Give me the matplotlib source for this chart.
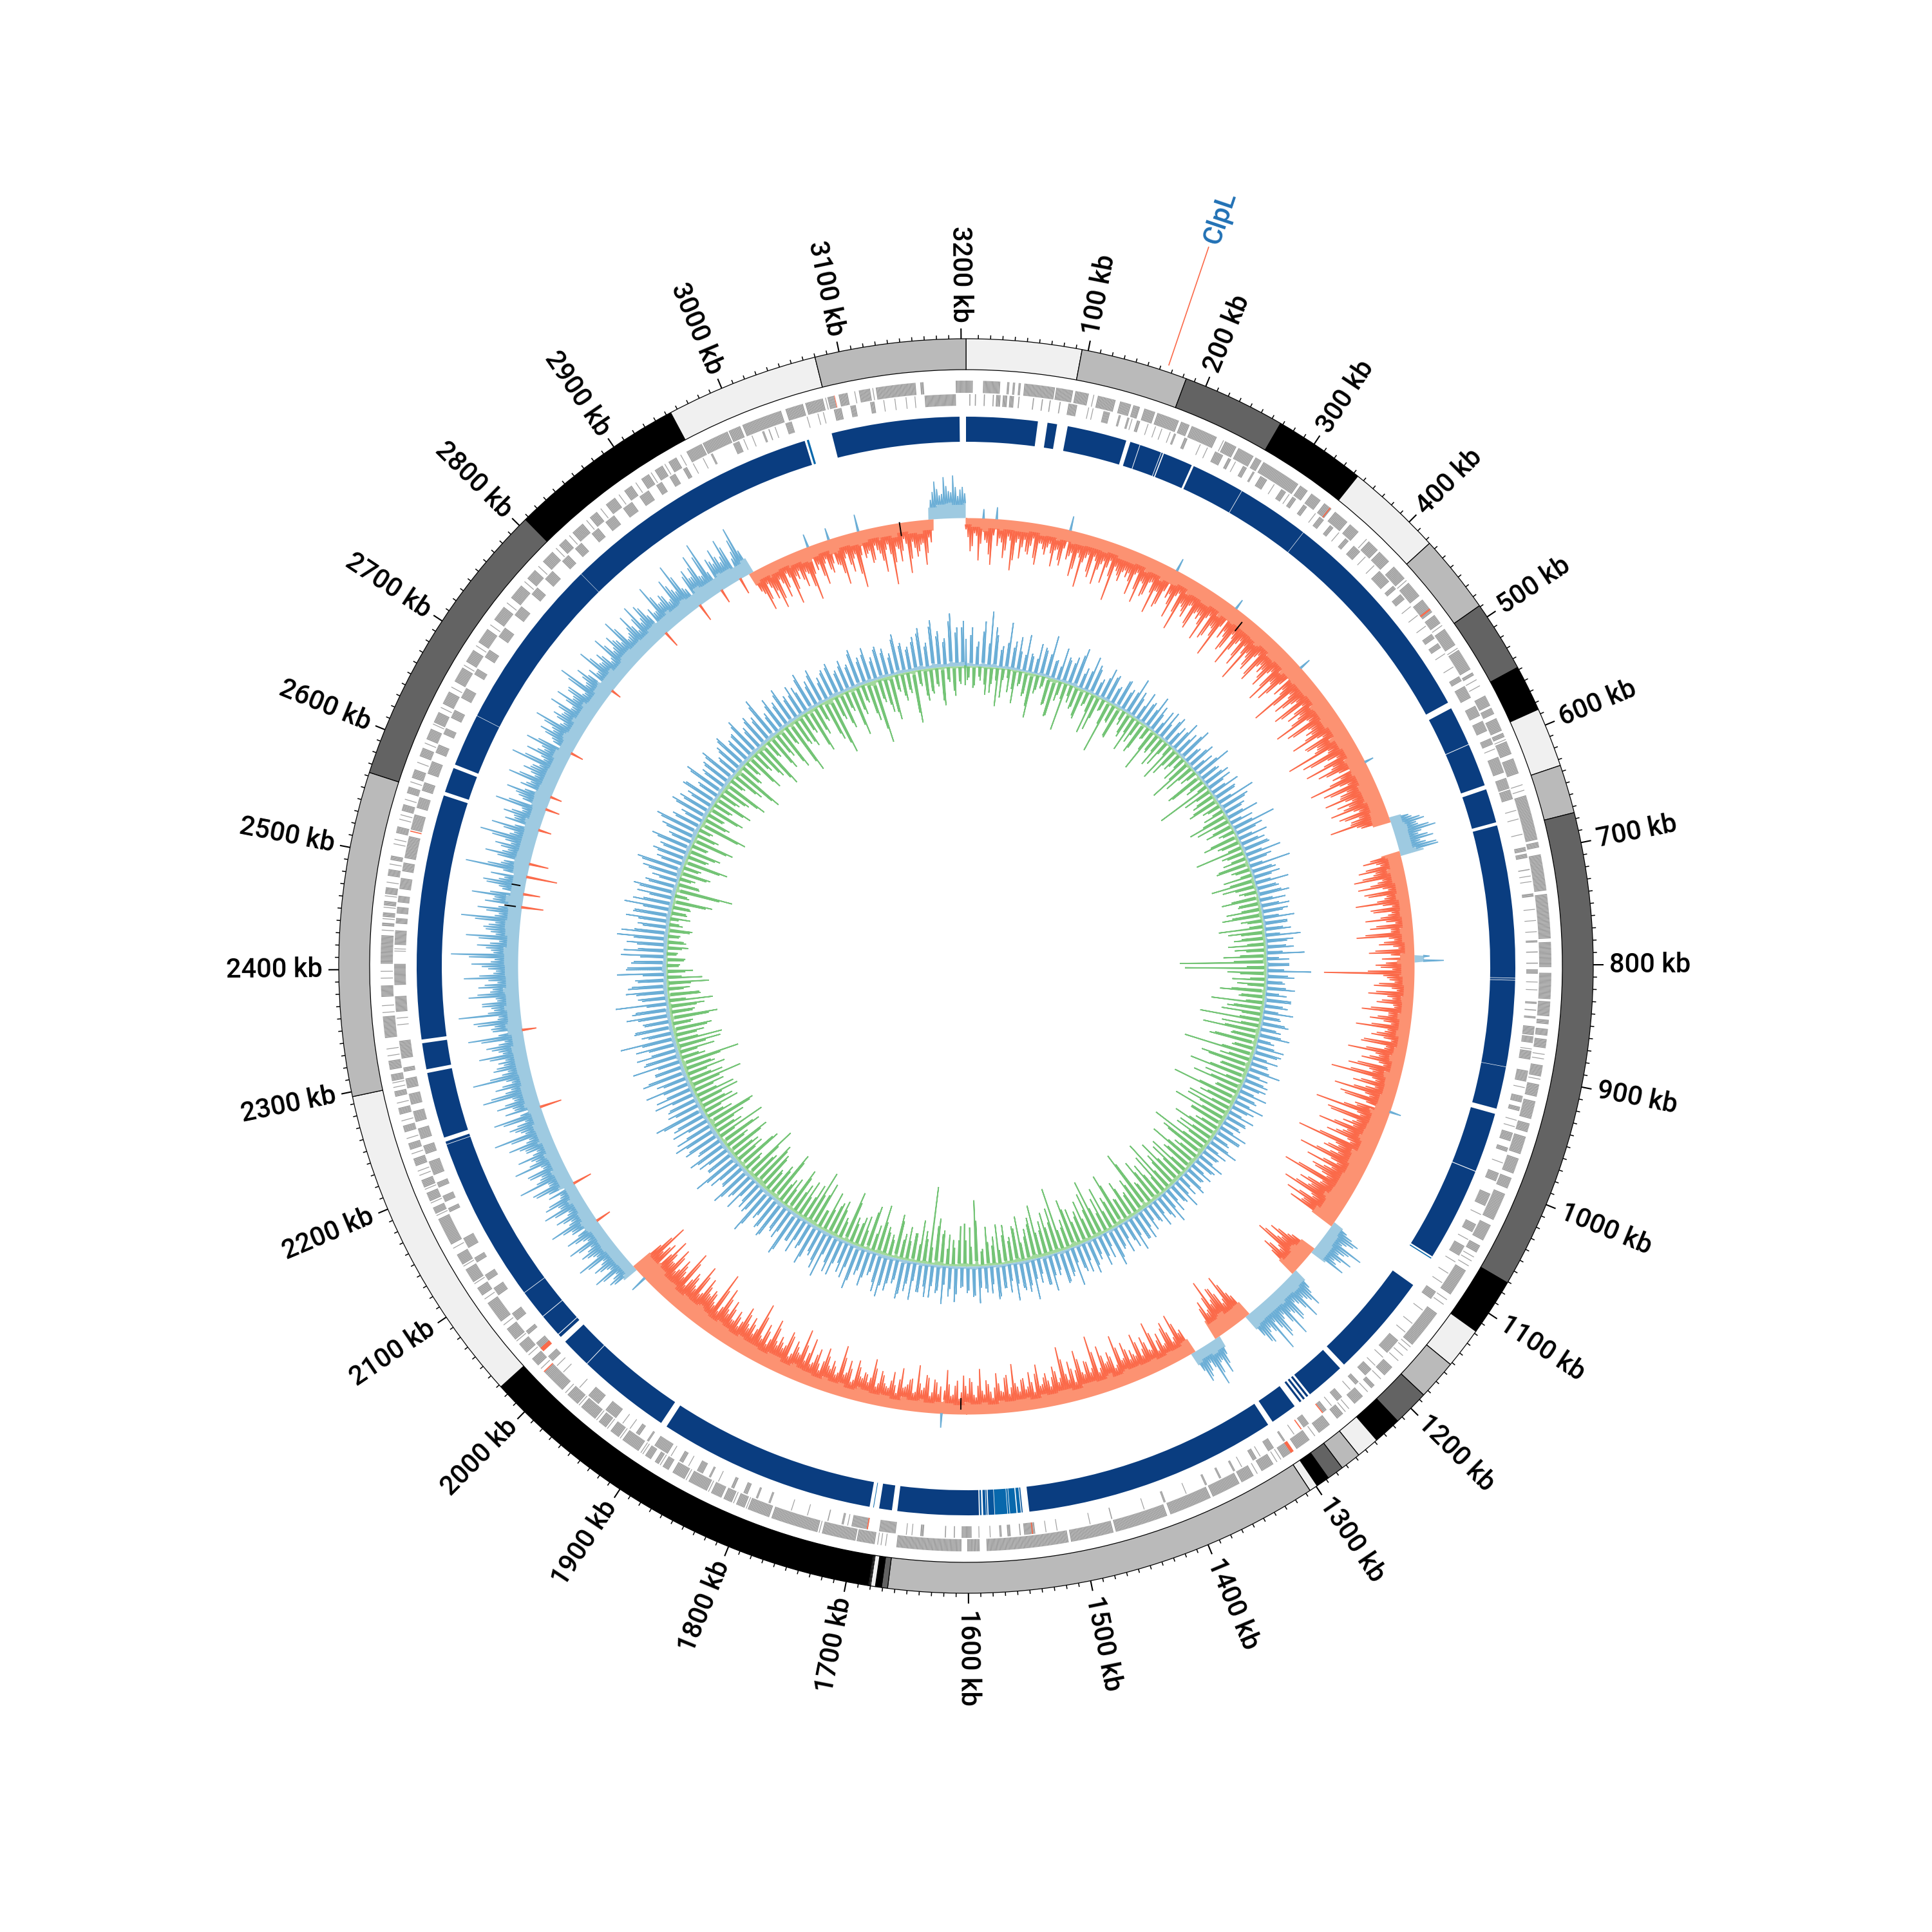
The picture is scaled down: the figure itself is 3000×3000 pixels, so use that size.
import numpy as np
import matplotlib
matplotlib.use("Agg")
import matplotlib.pyplot as plt

GENOME_KB = 3204
BIN_KB = 5

# contig bands: boundaries in kb, colours cycle over them
band_edges = [0, 95, 183, 268, 344, 424, 489, 548, 586, 635, 675, 1071, 1118, 1152, 1185, 1215, 1238, 1257, 1274,
              1288, 1299, 1306, 1666, 1671, 1676, 1680, 1681, 1682, 2028, 2296, 2563, 2807, 2954, 3080, 3204]
band_colors = ["#f0f0f0", "#bababa", "#636363", "#000000"]

# alignment track segments (kb)
align_dark = [(0, 67), (76, 85), (95, 151), (155, 164), (164.6, 185), (185.6, 187), (188, 216), (218, 268), (268.5, 337),
              (337.4, 546), (552, 589), (589.6, 630), (634, 666), (669, 812), (812.5, 814), (814.5, 895), (895.4, 935),
              (940, 996), (996.7, 1085), (1117, 1215), (1220, 1257), (1259, 1261), (1263, 1265), (1267, 1269),
              (1275, 1300), (1305, 1543), (1590, 1666), (1671, 1683), (1692, 1896), (1902, 1990), (1990.6, 2019),
              (2025, 2028), (2028.7, 2050), (2050.6, 2078), (2078.5, 2234), (2234.5, 2237), (2241, 2303), (2306.5, 2331),
              (2334.5, 2564), (2567.5, 2591), (2594.5, 2644), (2644.4, 2808), (2808.3, 3052), (3078, 3198)]
align_mid = [(1551, 1554), (1555, 1561), (1561.5, 1563), (1563.5, 1575), (3054, 3056), (1688, 1688.6), (1086.5, 1087.5)]
align_mid2 = [(1549.2, 1550.2), (1575.5, 1581), (1582, 1583), (1583.5, 1586), (1587.5, 1589)]

# gene blocks on each strand (kb)
genes_outer = [(3164, 3167), (3195, 3204), (0, 6), (15, 30), (36, 38), (41, 43), (46, 48), (51, 78), (79, 94), (96, 108), (116, 132),
               (136, 146), (148, 154), (158, 168), (170, 190), (192, 200), (202, 226), (234, 245), (247, 262), (264, 270),
               (272, 308), (310, 318), (322, 332), (336, 344), (348, 362), (365, 375), (387, 398), (400, 412), (418, 432),
               (437, 452), (456, 470), (473, 482), (488, 505), (510, 530), (533, 536), (556, 566), (568, 574), (578, 590), (592, 596),
               (600, 612), (616, 630), (650, 676), (676, 690), (692, 697), (703, 730), (730, 735), (738, 777), (780, 802),
               (807, 830), (832, 845), (848, 852), (856, 862), (865, 873), (888, 898), (905, 916), (920, 936), (940, 948),
               (952, 968), (972, 986), (990, 1000), (1005, 1030), (1035, 1050), (1055, 1062), (1080, 1105), (1125, 1160),
               (1186, 1196), (1208, 1212), (1222, 1232), (1245, 1252), (1260, 1272), (1282, 1296), (1301, 1310), (1320, 1332),
               (1340, 1352), (1354, 1380), (1382, 1420), (1423, 1470), (1472, 1510), (1512, 1541), (1541, 1584), (1590, 1601),
               (1606, 1663), (1682, 1698), (1699, 1729), (1733, 1775), (1777, 1797), (1800, 1808), (1812, 1820), (1822, 1832),
               (1836, 1854), (1858, 1870), (1874, 1880), (1884, 1888), (1892, 1898), (1905, 1922), (1926, 1935), (1940, 1948),
               (1952, 1968), (1972, 1984), (1990, 2012), (2020, 2028), (2035, 2045), (2050, 2062), (2070, 2090), (2098, 2106),
               (2112, 2125), (2130, 2140), (2150, 2175), (2180, 2186), (2192, 2200), (2205, 2212), (2225, 2232), (2240, 2246),
               (2256, 2262), (2272, 2278), (2288, 2293), (2302, 2308), (2312, 2320), (2340, 2359), (2376, 2386), (2405, 2430),
               (2438, 2441), (2446, 2450), (2456, 2460), (2466, 2472), (2482, 2488), (2496, 2500), (2520, 2526), (2540, 2546),
               (2556, 2562), (2570, 2578), (2590, 2598), (2606, 2616), (2622, 2632), (2640, 2652), (2662, 2676), (2682, 2694),
               (2702, 2716), (2726, 2740), (2750, 2764), (2772, 2782), (2792, 2804), (2812, 2820), (2828, 2840), (2848, 2856),
               (2866, 2876), (2886, 2894), (2904, 2912), (2918, 2926), (2932, 2940), (2950, 2965), (2966, 2990), (2991, 3002),
               (3004, 3040), (3044, 3060), (3062, 3078), (3082, 3088), (3092, 3100), (3110, 3120), (3125, 3160)]
genes_inner = [(3167, 3195), (3, 4), (8, 9), (16, 17), (24, 25), (27, 31), (33, 37), (39, 43), (47, 48), (60, 61), (68, 69), (75, 76),
               (84, 85), (92, 100), (124, 130), (138, 140), (146, 148), (155, 158), (190, 192), (200, 203), (230, 238), (243, 246),
               (258, 262), (268, 270), (276, 283), (298, 303), (310, 314), (322, 326), (340, 345), (352, 356), (370, 374),
               (380, 388), (412, 425), (430, 434), (440, 446), (485, 490), (495, 500), (530, 535), (540, 552), (560, 570),
               (575, 585), (592, 598), (610, 625), (630, 640), (641, 650), (694, 698), (700, 704), (714, 715), (736, 739),
               (778, 780), (788, 789), (798, 799), (804, 808), (833, 835), (840, 841), (846, 848), (855, 863), (864, 870),
               (877, 885), (895, 905), (918, 924), (928, 932), (952, 960), (966, 970), (990, 998), (1010, 1022), (1040, 1048),
               (1062, 1072), (1110, 1118), (1165, 1180), (1200, 1208), (1216, 1220), (1236, 1242), (1254, 1258), (1274, 1280),
               (1300, 1302), (1312, 1318), (1330, 1334), (1352, 1354), (1366, 1368), (1380, 1382), (1420, 1422), (1470, 1471),
               (1540, 1550), (1553, 1554), (1562, 1565), (1570, 1572), (1597, 1606), (1612, 1613), (1620, 1621), (1640, 1643),
               (1665, 1680), (1690, 1705), (1712, 1714), (1726, 1727), (1780, 1782), (1792, 1794), (1802, 1806), (1815, 1818),
               (1838, 1840), (1846, 1852), (1866, 1870), (1882, 1896), (1902, 1904), (1912, 1916), (1938, 1950), (1958, 1970),
               (2014, 2020), (2028, 2036), (2046, 2050), (2062, 2070), (2090, 2098), (2106, 2112), (2125, 2130), (2140, 2150),
               (2176, 2180), (2186, 2192), (2200, 2205), (2212, 2225), (2232, 2240), (2246, 2256), (2262, 2272), (2278, 2288),
               (2293, 2302), (2308, 2312), (2320, 2336), (2362, 2376), (2386, 2405), (2422, 2435), (2441, 2446), (2450, 2456),
               (2460, 2466), (2472, 2482), (2488, 2496), (2500, 2520), (2526, 2540), (2546, 2556), (2562, 2570), (2578, 2590),
               (2598, 2606), (2616, 2622), (2632, 2640), (2652, 2662), (2676, 2682), (2694, 2702), (2716, 2726), (2740, 2750),
               (2764, 2772), (2782, 2792), (2804, 2812), (2820, 2828), (2840, 2848), (2856, 2866), (2876, 2886), (2894, 2904),
               (2912, 2918), (2926, 2932), (2940, 2944), (2968, 2970), (2990, 2996), (3018, 3020), (3024, 3025), (3040, 3046),
               (3085, 3092), (3100, 3105), (3118, 3122)]
# single short genes, by start position (kb)
thin_genes_outer = [112, 152, 232, 384, 434, 484, 508, 540, 546, 598, 640, 645, 878, 882, 900, 1066, 1070, 1075, 1110, 1115,
                    1162, 1166, 1172, 1178, 1200, 1216, 1238, 1242, 1276, 1312, 1316, 1336, 1672, 1676, 1679, 1731, 1798, 1810,
                    1834, 1856, 1882, 1900, 1902, 1924, 1938, 1950, 1970, 1986, 2016, 2032, 2048, 2066, 2094, 2110, 2128, 2146,
                    2178, 2190, 2203, 2216, 2220, 2236, 2250, 2266, 2282, 2296, 2300, 2324, 2330, 2362, 2368, 2392, 2398, 2434,
                    2444, 2454, 2464, 2476, 2492, 2510, 2514, 2532, 2536, 2550, 2566, 2584, 2602, 2620, 2636, 2656, 2678, 2698,
                    2720, 2744, 2768, 2786, 2808, 2824, 2844, 2860, 2880, 2898, 2914, 2928, 2944, 3080, 3106, 3122]
thin_genes_inner = [110, 114, 150, 165, 172, 178, 186, 215, 222, 250, 290, 306, 335, 362, 394, 405, 454, 464, 476, 506, 520,
                    602, 660, 668, 682, 720, 725, 750, 760, 770, 815, 822, 875, 910, 940, 946, 980, 1030, 1055, 1078, 1090,
                    1100, 1130, 1145, 1155, 1185, 1195, 1226, 1248, 1290, 1326, 1345, 1400, 1440, 1490, 1520, 1530, 1580, 1590,
                    1650, 1655, 1708, 1745, 1760, 1830, 1860, 1878, 1922, 1930, 1980, 2000, 2008, 2350, 2356, 2416, 2418, 2950,
                    2960, 3000, 3008, 3030, 3060, 3070, 3075, 3130, 3140, 3150, 3158]
genes_red_outer = [(342, 343), (466, 467.5), (1299, 1302), (2012, 2013), (3088, 3088.6)]
genes_red_inner = [(1258, 1259), (1282, 1283), (1542, 1543), (1690, 1691), (2026, 2030), (2524, 2525)]

# outer skew track, read per 5 kb bin (radial pixels from its baseline)
outer_values = [
 -18,-52,-24,-66,14,-38,-72,18,-30,-60,-26,-78,-34,-58,-28,-50,-24,-64,-30,-46,
 -28,-62,-34,-58,22,-40,-70,-32,-84,-36,-56,-30,-72,-38,-66,-28,-90,-40,-54,-34,
 -36,-68,-30,-76,-42,-58,-34,-82,-44,-62,20,-38,-74,-30,-88,-46,-60,-36,-72,-40,
 -42,-80,-34,-66,-48,-92,16,-40,-70,-36,-86,-44,-62,-38,-96,-50,-68,-34,-78,-42,
 -46,-72,-38,-90,-52,-66,18,-44,-104,-40,-74,-48,-84,-36,-68,-54,-98,-42,-76,-46,
 -50,-88,-38,-70,-56,-110,-44,-78,-36,-92,-52,-64,14,-46,-100,-40,-72,-58,-86,-44,
 -52,-84,-40,-66,-58,-94,-46,34,52,40,66,36,58,44,62,-60,-34,-70,-48,-80,
 -44,-76,-30,-62,-38,-84,-28,-58,-36,-72,-26,-66,-34,-88,-30,-54,-24,-70,24,46,
 -60,-34,-140,-42,-30,-62,-26,-70,-32,-56,-28,-78,-36,-64,-30,-84,-38,-58,-26,-72,
 -34,-90,-40,-66,-30,-84,-44,-108,-36,-70,-48,-96,-38,-76,18,-52,-116,-42,-88,-50,
 -46,-100,-58,-82,-40,-124,-54,-76,-62,-110,-44,-92,-60,-72,-48,-118,-52,-84,-66,-104,
 -50,-92,-62,28,54,38,70,44,62,36,58,-46,-74,-56,-88,-40,-66,34,62,44,
 72,40,58,46,80,36,64,50,84,38,60,42,-48,-82,-38,-70,-54,-90,-44,-62,
 30,58,36,70,28,48,34,-38,-72,-30,-66,-34,-54,-28,-78,-36,-60,-32,-70,-40,
 -34,-64,-38,-80,-30,-58,-42,-72,-32,-92,-36,-56,-40,-76,-28,-62,-44,-88,-34,-60,
 -30,-52,-36,-68,-26,-58,-32,-48,-38,-74,-28,-54,-34,-62,-24,-46,-30,-70,-26,-50,
 -32,-60,-24,-44,-28,-68,22,-30,-52,-26,-58,-34,-72,-28,-48,-36,-64,-24,-56,-30,
 -36,-54,-28,-70,-32,-46,-38,-62,-26,-58,-34,-78,-30,-50,-40,-66,-28,-60,-36,-72,
 -34,-82,-42,-58,-30,-68,-38,-54,-44,-76,-32,-62,-40,-90,-36,-60,-46,-70,-34,-56,
 -38,-66,-48,-80,-36,-98,-44,-60,-50,-72,-40,-86,-46,-64,-36,-92,-52,-68,-42,-78,
 -50,-84,26,-62,-96,-54,46,28,62,34,52,30,70,38,54,32,66,36,60,-24,
 42,74,34,56,30,68,40,52,28,-30,62,36,82,44,58,32,76,38,64,30,
 46,70,34,88,42,58,30,78,-34,40,66,36,84,46,60,32,92,44,56,38,
 34,74,42,60,30,86,-22,48,68,36,96,40,58,34,78,44,62,32,84,38,
 46,72,36,104,42,64,30,82,44,56,38,92,34,68,-34,46,80,-26,40,66,
 34,-48,98,44,-30,72,38,60,46,88,36,74,-20,42,62,34,80,-22,48,70,
 -18,44,76,36,58,46,84,34,66,40,74,-20,38,62,46,78,34,56,42,70,
 36,68,44,58,32,82,40,62,-16,36,74,42,54,30,70,38,60,46,76,34,
 40,66,32,72,44,58,-26,36,78,42,52,34,68,46,84,38,-28,60,44,76,
 36,88,-22,48,64,38,72,-26,44,80,-34,-68,-28,-56,-74,-30,-62,-26,-78,-36,
 -30,-58,-40,-84,20,-32,-66,-28,-52,18,-44,-76,-30,-60,-34,-88,26,-38,-54,-28,
 -42,-72,-30,-94,-36,-60,-26,-80,-32,-56,-38,-70,-28,30,58,36,64,42,66,34,
 48]

# outer track, the readings half a bin later
outer_values_mid = [
 -30,-44,-28,-40,-34,-56,-26,-42,-36,-48,-32,-62,-28,-40,-46,-36,-54,-30,-38,-34,
 -42,-36,-50,-30,-46,-34,-58,-38,-44,-30,-64,-36,-48,-32,-40,-52,-34,-46,-38,-44,
 -48,-34,-56,-40,-62,-36,-50,-44,-68,-38,-46,-54,-36,-60,-42,-52,-38,-66,-44,-50,
 -56,-40,-72,-46,-60,-38,-54,-48,-64,-42,-58,-36,-76,-50,-44,-62,-40,-70,-48,-54,
 -60,-44,-66,-50,-80,-42,-58,-52,-70,-46,-62,-40,-74,-54,-48,-68,-44,-84,-50,-58,
 -64,-46,-72,-54,-62,-42,-90,-50,-60,-48,-76,-44,-58,-66,-52,-82,-46,-60,-54,-70,
 -62,-48,-74,-44,-60,-52,30,46,38,56,42,50,36,60,-48,-40,-58,-44,-66,-36,
 -56,-38,-68,-34,-50,-42,-62,-30,-48,-40,-56,-34,-74,-38,-46,-32,-60,-36,-50,-44,
 -52,-72,-48,-38,-54,-34,-58,-40,-48,-30,-64,-36,-52,-42,-60,-34,-50,-38,-68,-32,
 -62,-46,-54,-38,-70,-50,-78,-42,-58,-34,-66,-46,-84,-40,-56,-72,-48,-94,-44,-64,
 -76,-52,-68,-46,-90,-60,-70,-50,-84,-56,-66,-48,-78,-58,-96,-50,-72,-62,-86,-54,
 -72,-60,-80,40,48,32,50,36,46,42,-40,-62,-50,-78,-46,-58,-48,42,50,38,
 52,34,62,40,54,42,70,36,48,44,56,-40,-66,-44,-58,-72,-48,-64,-40,-52,
 44,34,52,38,40,54,-42,-56,-36,-48,-58,-32,-44,-60,-34,-50,-42,-56,-36,-48,
 -52,-40,-60,-34,-50,-44,-56,-38,-66,-42,-54,-36,-62,-46,-50,-34,-68,-40,-52,-44,
 -40,-46,-34,-54,-42,-36,-50,-30,-44,-38,-58,-32,-46,-40,-34,-52,-36,-44,-30,-56,
 -44,-34,-52,-30,-46,-36,-42,-48,-32,-54,-38,-44,-30,-50,-40,-34,-46,-36,-42,-32,
 -48,-34,-56,-40,-44,-36,-52,-30,-46,-38,-60,-34,-42,-36,-54,-44,-38,-50,-32,-48,
 -58,-40,-50,-36,-62,-44,-46,-38,-64,-42,-52,-36,-70,-46,-50,-40,-60,-44,-48,-38,
 -54,-42,-64,-46,-72,-40,-56,-48,-60,-44,-70,-42,-58,-50,-76,-44,-60,-48,-66,-50,
 -62,-56,-70,-50,-74,40,36,50,30,44,36,56,34,46,40,52,30,48,38,44,
 56,40,46,34,52,38,60,30,46,42,66,36,52,40,60,34,50,44,38,46,
 54,40,62,36,50,44,64,34,56,42,52,38,70,36,48,40,64,34,50,46,
 58,36,52,40,66,38,46,42,74,34,50,44,58,36,64,40,52,46,60,34,
 56,42,76,38,50,44,62,36,52,48,70,40,54,36,58,44,52,34,60,42,
 56,38,64,40,52,46,50,36,68,42,54,38,56,44,50,36,60,40,54,42,
 52,38,60,44,48,36,64,40,50,46,56,34,52,42,62,38,48,44,54,36,
 50,42,56,34,66,38,50,44,48,36,58,40,46,34,54,42,50,38,60,36,
 48,44,52,38,64,40,46,36,58,42,48,36,56,40,62,34,52,44,58,38,
 68,36,54,42,50,46,58,34,62,40,-40,-52,-36,-44,-60,-38,-48,-34,-56,-42,
 -46,-36,-62,-44,-40,-52,-34,-46,-38,-42,-58,-36,-48,-40,-66,-38,-44,-34,-50,-36,
 -54,-38,-46,-60,-40,-44,-34,-58,-42,-48,-36,-52,-36,42,46,38,50,40,48,44,
 38]

# inner track, read per 5 kb bin (radial pixels from its baseline)
inner_values = [
 42,-18,60,-30,38,-22,70,-44,86,-26,50,-60,34,-18,72,-36,44,-52,30,-20,
 58,-34,26,-70,48,-24,40,-16,66,-42,30,-58,52,-22,36,-76,44,-28,62,-32,
 34,-48,56,-20,40,-64,28,-36,50,-18,44,-84,30,-30,46,-52,36,-24,60,-40,
 32,-58,48,-26,38,-44,54,-20,30,-70,42,-34,26,-50,46,-22,36,-62,52,-30,
 40,-24,56,-42,30,-72,46,-28,36,-18,60,-54,34,-32,44,-88,28,-26,48,-38,
 36,-50,62,-22,42,-34,30,-64,52,-26,38,-44,70,-20,34,-56,48,-30,40,-76,
 44,-28,58,-38,32,-52,66,-24,40,-46,30,-68,54,-32,36,-20,50,-58,42,-34,
 46,-54,34,-62,50,-24,38,-70,42,-36,56,-48,34,-58,44,-30,60,-66,36,-134,
 36,-126,70,-40,44,-52,30,-28,46,-70,34,-40,42,-82,38,-56,48,-32,30,-96,
 44,-60,34,-88,50,-42,28,-74,46,-36,38,-110,42,-50,30,-66,52,-44,36,-90,
 40,-62,30,-78,46,-38,34,-104,50,-56,28,-70,44,-48,36,-86,32,-54,48,-40,
 42,-72,30,-58,50,-36,38,-94,28,-64,46,-44,34,-80,40,-52,30,-68,44,-38,
 36,-76,50,-46,32,-88,42,-30,54,-60,34,-72,46,-40,30,-98,40,-56,48,-34,
 44,-62,56,-38,34,-84,48,-50,38,-70,60,-32,42,-90,50,-46,36,-64,54,-42,
 48,-58,38,-76,62,-34,44,-100,52,-48,36,-66,58,-40,46,-82,40,-54,64,-36,
 50,-70,42,-56,60,-34,46,-44,38,-62,54,-30,44,-60,36,-22,58,-102,48,-60,
 42,-66,34,-40,56,-40,48,-26,60,-48,44,-60,52,-120,36,-50,46,-28,60,-44,
 48,-52,62,-30,40,-68,54,-34,66,-44,46,-76,38,-28,58,-60,44,-50,70,-36,
 56,-42,36,-80,60,-34,44,-58,72,-46,50,-64,40,-30,66,-52,46,-86,58,-38,
 44,-60,74,-36,52,-70,42,-48,64,-32,56,-82,46,-54,78,-40,50,-62,38,-74,
 60,-44,48,-90,68,-36,42,-66,56,-50,76,-38,46,-72,54,-42,64,-58,40,-80,
 52,-34,70,-56,44,-78,62,-30,48,-60,80,-42,54,-68,46,-36,66,-52,42,-84,
 72,-38,50,-64,60,-44,46,-92,78,-30,54,-58,42,-70,64,-36,86,-48,50,-62,
 58,-34,44,-74,68,-40,52,-56,82,-28,46,-50,64,-36,54,-66,48,-24,76,-42,
 60,-22,50,-30,70,-18,44,-34,62,-26,78,-20,52,-38,48,-16,68,-32,56,-24,
 74,-28,46,-62,58,-20,66,-90,50,-34,42,-26,60,-48,72,-30,44,-70,54,-36,
 46,-52,64,-28,40,-66,56,-38,70,-24,48,-76,38,-44,60,-30,52,-58,44,-34,
 54,-62,38,-36,66,-48,44,-72,50,-28,60,-54,36,-82,48,-40,58,-30,42,-64,
 46,-38,62,-56,40,-78,52,-32,44,-60,68,-44,36,-70,54,-34,42,-88,58,-46,
 40,-54,50,-36,34,-72,60,-48,42,-30,56,-66,38,-92,46,-40,52,-58,36,-34,
 48,-76,38,-46,58,-30,42,-62,54,-100,36,-38,50,-56,44,-70,34,-28,62,-44,
 46,-34,38,-82,52,-26,64,-50,40,-40,74,-30,56,-60,44,-24,82,-46,60,-28,
 70]

# inner track, the readings half a bin later
inner_values_mid = [
 -22,48,-34,30,-16,54,-28,36,-40,62,-20,28,-46,40,-14,34,-30,52,-24,26,
 -38,30,-52,24,-30,44,-20,36,-44,28,-60,22,-32,40,-26,34,-18,50,-36,24,
 -44,32,-24,46,-30,22,-56,34,-20,40,-38,26,-28,44,-50,30,-16,36,-34,42,
 -28,24,-40,34,-52,30,-22,42,-36,20,-30,46,-26,38,-44,24,-18,34,-48,28,
 -32,44,-20,26,-38,36,-50,22,-28,40,-60,30,-24,34,-16,42,-46,26,-30,38,
 -42,24,-30,48,-18,36,-40,28,-54,20,-32,34,-26,46,-44,24,-36,30,-22,42,
 -36,28,-24,40,-48,22,-30,34,-18,44,-38,26,-52,32,-28,38,-42,22,-32,30,
 -30,42,-46,26,-34,38,-22,30,-56,24,-36,44,-28,32,-48,26,-40,20,-50,36,
 -30,28,-60,34,-24,26,-44,32,-52,22,-36,42,-28,30,-46,24,-64,28,-34,38,
 -30,26,-54,36,-40,22,-66,30,-32,44,-50,24,-36,28,-78,34,-42,22,-58,32,
 -28,40,-50,24,-36,30,-62,26,-44,38,-32,22,-70,34,-40,28,-54,24,-30,42,
 -48,26,-36,34,-60,22,-42,30,-74,26,-34,38,-52,24,-46,32,-30,36,-62,22,
 -44,28,-58,36,-34,24,-68,30,-40,42,-52,26,-36,34,-80,24,-46,30,-38,44,
 -50,32,-36,46,-66,26,-42,34,-30,48,-56,24,-44,36,-72,28,-34,42,-50,30,
 -36,44,-60,26,-46,38,-32,50,-70,28,-42,34,-54,46,-38,26,-64,32,-48,40,
 -28,46,-52,34,-40,28,-60,38,-22,50,-44,30,-36,42,-26,34,-70,46,-30,38,
 -40,32,-62,44,-28,36,-48,30,-54,40,-72,34,-26,52,-38,46,-66,30,-44,36,
 -30,54,-40,34,-58,42,-26,48,-36,60,-50,32,-42,44,-70,36,-28,56,-46,38,
 -32,50,-64,40,-28,58,-44,34,-52,62,-36,46,-30,54,-72,40,-48,36,-60,44,
 -34,66,-50,40,-58,46,-30,60,-42,52,-70,38,-46,64,-36,44,-56,48,-66,34,
 -50,42,-62,56,-30,44,-74,40,-36,58,-48,46,-60,38,-34,52,-68,44,-28,60,
 -46,52,-38,62,-72,36,-44,56,-30,68,-54,42,-40,50,-64,38,-34,60,-48,44,
 -56,40,-34,70,-50,46,-62,38,-40,58,-30,66,-46,44,-74,52,-36,40,-54,60,
 -30,42,-60,50,-36,58,-44,34,-70,40,-52,48,-26,60,-38,44,-56,36,-30,62,
 -20,54,-28,40,-16,66,-24,46,-30,52,-18,72,-34,40,-22,48,-14,58,-26,44,
 -30,62,-52,38,-24,56,-70,44,-36,30,-20,50,-42,64,-26,36,-58,46,-32,40,
 -44,54,-26,34,-56,48,-32,62,-20,42,-64,30,-38,52,-28,44,-50,36,-30,58,
 -50,34,-30,58,-42,38,-60,46,-24,52,-44,32,-70,42,-36,54,-26,38,-52,44,
 -32,54,-48,34,-66,46,-28,38,-50,58,-36,30,-60,44,-30,36,-72,50,-40,34,
 -46,36,-30,44,-62,52,-40,34,-26,48,-56,30,-76,42,-34,46,-50,32,-28,40,
 -60,34,-38,52,-26,36,-50,44,-78,30,-32,46,-44,38,-58,28,-24,54,-36,42,
 -28,34,-66,44,-22,56,-42,34,-36,64,-26,48,-52,38,-20,70,-38,52,-24,60,
 -30]

# short black marks over the skew track: (kb, inner offset, outer offset)
black_marks = [(345, -28, -12), (1608, -24, -8), (2470, 10, 26), (2494, 8, 20), (3128, -20, 0)]

tick_major_kb = list(range(100, 3201, 100))
tick_minor_kb = [k for k in range(10, 3201, 10) if k % 100 != 0]
annotation_label = "ClpL"
annotation_kb = 166

FONT = ["Roboto", "Open Sans", "DejaVu Sans"]


def th(kb):
    return np.deg2rad(np.asarray(kb, dtype=float) / GENOME_KB * 360.0)


def bars(ax, spans, r0, r1, color, **kw):
    spans = np.asarray(spans, dtype=float)
    ax.bar(th(spans[:, 0]), r1 - r0, width=th(spans[:, 1] - spans[:, 0]), bottom=r0, align="edge",
           color=color, linewidth=0, **kw)


def gene_bars(ax, spans, thin, r0, r1, color):
    # each block is a run of genes about 1.3 kb wide, with hairline gaps between them
    starts, widths = list(thin), [0.7] * len(thin)
    for s, e in spans:
        n = max(1, int(round((e - s) / 1.3)))
        edges = np.linspace(s, e, n + 1)
        starts.extend(edges[:-1])
        widths.extend(np.diff(edges) * 0.93)
    ax.bar(th(starts), r1 - r0, width=th(widths), bottom=r0, align="edge", color=color, linewidth=0)


def signed_track(ax, values, mids, base, pos_fill, pos_line, neg_fill, neg_line, band_frac, half=0.8, lw=1.25):
    n = min(len(values), len(mids))
    v = np.empty(2 * n)
    v[0::2] = values[:n]
    v[1::2] = mids[:n]
    kb = np.arange(2 * n) * (BIN_KB / 2)
    for sign, fill, line in ((1, pos_fill, pos_line), (-1, neg_fill, neg_line)):
        part = np.clip(sign * v, 0, None)
        band = np.zeros_like(part)
        for i in range(len(part)):
            win = part[max(0, i - 2): i + 3]
            win = win[win > 0]
            if len(win) >= 2:
                band[i] = win.min() * band_frac
        t = np.column_stack([kb - half, kb, kb + half])
        r = np.column_stack([band, np.maximum(part, band), band])
        ax.fill_between(th(t.ravel()), base, base + sign * r.ravel(), color=fill, linewidth=0, zorder=2)
        show = part > band
        lt = np.column_stack([t[show], np.full(show.sum(), np.nan)]).ravel()
        lr = np.column_stack([r[show], np.full(show.sum(), np.nan)]).ravel()
        ax.plot(th(lt), base + sign * lr, color=line, lw=lw, zorder=3, solid_joinstyle="miter")


fig = plt.figure(figsize=(30, 30), dpi=100, facecolor="white")
ax = fig.add_axes([0, 0, 1, 1], projection="polar")
ax.set_theta_zero_location("N")
ax.set_theta_direction(-1)
ax.set_xlim(0, 2 * np.pi)
ax.set_ylim(0, 1500)
ax.axis("off")

# ideogram ring
edges = np.asarray(band_edges, dtype=float)
ax.bar(th(edges[:-1]), 48, width=th(np.diff(edges)), bottom=926, align="edge",
       color=[band_colors[i % 4] for i in range(len(edges) - 1)], edgecolor="black", linewidth=0.9, zorder=4)

# ticks and labels
ax.vlines(th(tick_minor_kb), 974, 980, color="black", lw=1.1)
ax.vlines(th(tick_major_kb), 974, 990, color="black", lw=1.5)
for kb in tick_major_kb:
    deg = kb / GENOME_KB * 360.0
    if deg <= 180:
        rot, ha = 90 - deg, "left"
    else:
        rot, ha = 270 - deg, "right"
    ax.text(th(kb), 999, f"{kb} kb", rotation=rot, rotation_mode="anchor", ha=ha, va="center",
            fontsize=30, fontweight="medium", family=FONT, color="black")

# annotation
ax.plot(th([annotation_kb, annotation_kb]), [985, 1178], color="#fb6a4a", lw=1.2)
ang = annotation_kb / GENOME_KB * 360.0
ax.text(th(annotation_kb + 1), 1186, annotation_label, rotation=90 - ang, rotation_mode="anchor",
        ha="left", va="center", fontsize=30, fontweight="medium", family=FONT, color="#2171b5")

# gene strands
gene_bars(ax, genes_outer, thin_genes_outer, 890, 909, "#a0a0a0")
gene_bars(ax, genes_inner, thin_genes_inner, 870, 888, "#a0a0a0")
bars(ax, genes_red_outer, 890, 909, "#fb6a4a", zorder=3)
bars(ax, genes_red_inner, 870, 888, "#fb6a4a", zorder=3)

# alignment track
bars(ax, align_dark, 814, 853, "#0a3d80")
bars(ax, align_mid, 814, 853, "#0868ac")
bars(ax, align_mid2, 814, 853, "#08559c")

# signal tracks
signed_track(ax, outer_values, outer_values_mid, 696, "#9ecae1", "#6baed6", "#fc9272", "#fb6a4a", 0.62)
signed_track(ax, inner_values, inner_values_mid, 466, "#9ecae1", "#6baed6", "#a1d99b", "#74c476", 0.12)
for kb, a, b in black_marks:
    ax.plot(th([kb, kb]), [696 + a, 696 + b], color="black", lw=1.4, zorder=4)

fig.savefig("out.png", dpi=100, facecolor="white")
